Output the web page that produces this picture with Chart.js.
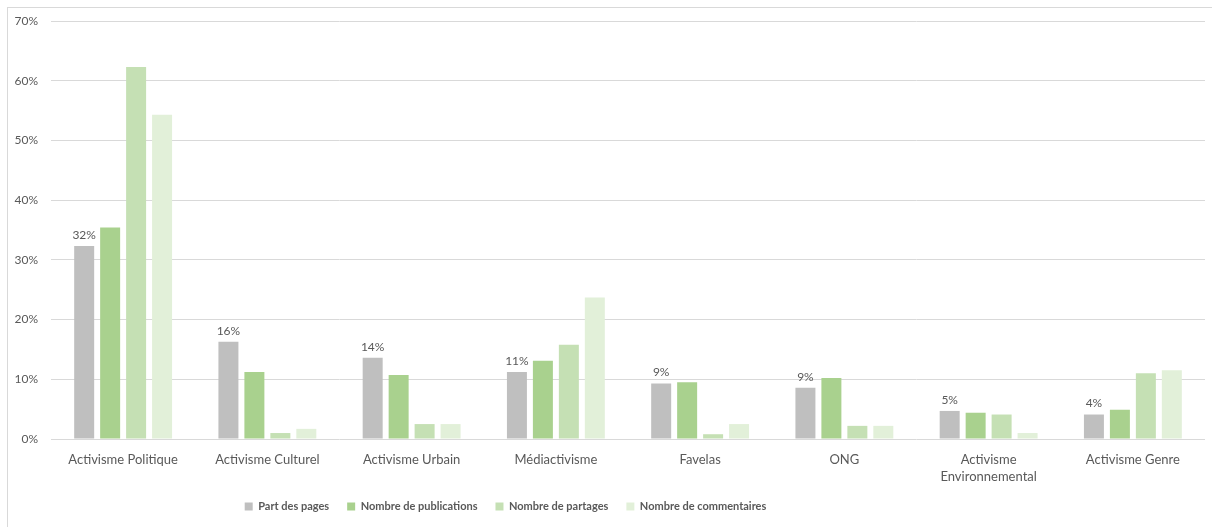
<!DOCTYPE html>
<html>
<head>
<meta charset="utf-8">
<script src="https://cdn.jsdelivr.net/npm/chart.js@4.4.1/dist/chart.umd.min.js"></script>
<style>
  html, body { margin: 0; padding: 0; background: #fff; }
  #wrap { position: relative; width: 1212px; height: 527px; }
  #frame { position: absolute; left: 7px; top: 7px; right: 0; bottom: 0;
           border-top: 1px solid #d9d9d9; border-left: 1px solid #d9d9d9; }
  canvas { position: absolute; left: 0; top: 0; }
</style>
</head>
<body>
<div id="wrap">
  <div id="frame"></div>
  <canvas id="chart" width="1212" height="527"></canvas>
</div>
<script>
// Categories and series (values in %)
const categories = [
  'Activisme Politique', 'Activisme Culturel', 'Activisme Urbain', 'Médiactivisme',
  'Favelas', 'ONG', ['Activisme', 'Environnemental'], 'Activisme Genre'
];
const partPages     = [32.3, 16.3, 13.6, 11.2, 9.3, 8.6, 4.7, 4.1];
const publications  = [35.4, 11.2, 10.7, 13.1, 9.5, 10.2, 4.4, 4.9];
const partages      = [62.3, 1.0, 2.5, 15.8, 0.8, 2.2, 4.1, 11.0];
const commentaires  = [54.3, 1.7, 2.5, 23.7, 2.5, 2.2, 1.0, 11.5];
const seriesNames   = ['Part des pages', 'Nombre de publications', 'Nombre de partages', 'Nombre de commentaires'];
const yTicks        = [0, 10, 20, 30, 40, 50, 60, 70];

const TEXT = '#595959';
const GRID = '#d9d9d9';
const FONT = "Lato, 'Noto Sans', sans-serif";

// Data labels above the first series only
const labelPlugin = {
  id: 'pageLabels',
  afterLayout(chart) {
    // let the two-line category label spill below the axis box
    chart.scales.x.bottom += 14;
    // legend sits left of centre in the original
    chart.legend.left -= 97;
    chart.legend.right -= 97;
  },
  afterDatasetsDraw(chart) {
    const ctx = chart.ctx;
    const meta = chart.getDatasetMeta(0);
    ctx.save();
    ctx.font = `12px ${FONT}`;
    ctx.fillStyle = TEXT;
    ctx.textAlign = 'center';
    ctx.textBaseline = 'bottom';
    meta.data.forEach((bar, i) => {
      ctx.fillText(Math.round(partPages[i]) + '%', bar.x, bar.y - 5);
    });
    ctx.restore();
  }
};

const colors = ['#bfbfbf', '#a9d18e', '#c5e0b4', '#e2f0d9'];
const values = [partPages, publications, partages, commentaires];

new Chart(document.getElementById('chart'), {
  type: 'bar',
  data: {
    labels: categories,
    datasets: values.map((v, i) => ({
      label: seriesNames[i],
      data: v,
      backgroundColor: colors[i],
      borderWidth: 0,
      categoryPercentage: 0.72,
      barPercentage: 0.77,
    })),
  },
  options: {
    responsive: false,
    animation: false,
    layout: { padding: { top: 21, right: 7, bottom: 5, left: 0 } },
    scales: {
      x: {
        grid: { display: false },
        border: { display: false },
        ticks: {
          color: TEXT,
          font: { family: FONT, size: 13, lineHeight: 1.25 },
          padding: 5,
          maxRotation: 0,
          autoSkip: false,
        },
        afterFit: (s) => { s.height = 44; },
      },
      y: {
        min: 0,
        max: 70,
        afterBuildTicks: (s) => { s.ticks = yTicks.map(v => ({ value: v })); },
        grid: { color: GRID, drawTicks: false },
        border: { display: false },
        ticks: {
          color: TEXT,
          font: { family: FONT, size: 12 },
          padding: 13,
          callback: (v) => v + '%',
        },
        afterFit: (s) => { s.width = 51; },
      },
    },
    plugins: {
      legend: {
        position: 'bottom',
        labels: {
          color: TEXT,
          font: { family: FONT, size: 11, weight: 'bold' },
          boxWidth: 8,
          boxHeight: 8,
          padding: 18,
        },
      },
      tooltip: { enabled: false },
    },
  },
  plugins: [labelPlugin],
});
</script>
</body>
</html>
